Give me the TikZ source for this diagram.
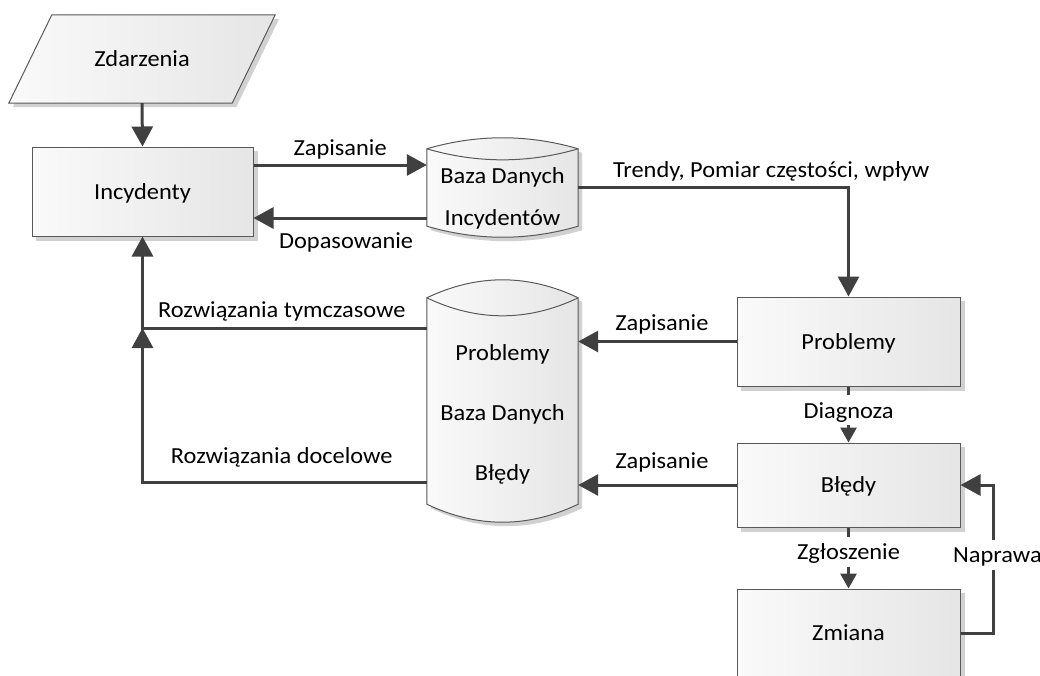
\documentclass[tikz,border=0pt]{standalone}
\usepackage{fontspec}
\setmainfont{Carlito}[FakeStretch=1.06]
\usetikzlibrary{arrows.meta}
\pgfdeclarelayer{bg}
\pgfdeclarelayer{mid}
\pgfsetlayers{bg,mid,main}
\tikzset{
  shapefill/.style={draw=black!65, line width=1pt, left color=black!2, right color=black!10},
  outline/.style={draw=black!65, line width=1pt},
  box/.style={shapefill, minimum width=223pt, inner sep=0pt, text height=15pt, text depth=0pt},
  ghost/.style={inner sep=0pt, text height=15pt, text depth=0pt},
  conn/.style={draw=black!75, line width=3pt},
  arr/.style={conn, -{Triangle[length=20pt,width=21pt]}},
  arrs/.style={conn, -{Triangle[length=15pt,width=16pt]}},
  lab/.style={anchor=base, inner sep=0pt},
  cut/.style={fill=white, inner xsep=2pt, inner ysep=5pt, text height=18pt, text depth=2pt},
  shadowc/.style={fill=black!18},
  sh/.style={transform canvas={xshift=4pt,yshift=-4pt}},
}
% database cylinder: #1 node, #2 third of the width, #3 control offset of the arcs
\newcommand\dbdraw[3]{%
  \begin{pgfonlayer}{bg}
    \fill[shadowc, sh] (#1.north west) .. controls +(#2,-#3) and +(-#2,-#3) .. (#1.north east)
      -- (#1.south east) .. controls +(-#2,#3) and +(#2,#3) .. (#1.south west) -- cycle;
  \end{pgfonlayer}
  \begin{pgfonlayer}{mid}
    \path[shapefill] (#1.north west) .. controls +(#2,-#3) and +(-#2,-#3) .. (#1.north east)
      -- (#1.south east) .. controls +(-#2,#3) and +(#2,#3) .. (#1.south west) -- cycle;
    \draw[outline] (#1.north west) .. controls +(#2,#3) and +(-#2,#3) .. (#1.north east);
  \end{pgfonlayer}
}
\begin{document}
\begin{tikzpicture}[x=1pt, y=-1pt, font=\fontsize{23}{28}\selectfont]
\begin{pgfonlayer}{bg}
  \fill[white] (0,0) rectangle (1040,675);
\end{pgfonlayer}
\useasboundingbox (0,0) rectangle (1040,675);

% process boxes
\node[box, minimum width=221pt, minimum height=89pt] (inc) at (142.5,191.5) {Incydenty};
\node[box, minimum height=89pt] (prob) at (848.5,341.5) {Problemy};
\node[box, minimum height=84pt] (bl) at (848.5,485) {Błędy};
\node[box, minimum height=88pt] (zm) at (848.5,633) {Zmiana};

% input (parallelogram)
\node[ghost, minimum width=223pt, minimum height=88pt] (zd) at (142,59) {Zdarzenia};

% databases
\node[inner sep=0pt, minimum width=151pt, minimum height=77pt] (db1) at (502.5,187.5) {};
\node[inner sep=0pt, minimum width=151pt, minimum height=206pt] (db2) at (502.5,401) {};
\dbdraw{db1}{50.3}{14.7}
\dbdraw{db2}{50.3}{24}
\node[lab] (db1a) at ([yshift=4.5pt]db1.center) {Baza Danych};
\node[lab] (db1b) at ([yshift=-37.5pt]db1.center) {Incydentów};
\node[lab] (db2a) at ([yshift=41pt]db2.center) {Problemy};
\node[lab] (db2b) at ([yshift=-19pt]db2.center) {Baza Danych};
\node[lab] (db2c) at ([yshift=-79pt]db2.center) {Błędy};

% shadows of boxes and parallelogram
\begin{pgfonlayer}{bg}
  \foreach \n in {inc,prob,bl,zm}
    \fill[shadowc, sh] (\n.north west) rectangle (\n.south east);
  \fill[shadowc, sh] ([xshift=21.5pt]zd.north west) -- ([xshift=21.5pt]zd.north east)
    -- ([xshift=-21.5pt]zd.south east) -- ([xshift=-21.5pt]zd.south west) -- cycle;
\end{pgfonlayer}
\begin{pgfonlayer}{mid}
  \path[shapefill] ([xshift=21.5pt]zd.north west) -- ([xshift=21.5pt]zd.north east)
    -- ([xshift=-21.5pt]zd.south east) -- ([xshift=-21.5pt]zd.south west) -- cycle;
\end{pgfonlayer}

% connectors
\draw[arr] (zd.south) -- (inc.north);

\coordinate (zapA) at ([yshift=26.5pt]inc.east);
\draw[arr] (zapA) -- (zapA -| db1.west)
  node[lab, midway, yshift=10pt] (lzap1) {Zapisanie};

\coordinate (dopA) at ([yshift=-30.5pt]db1.west);
\draw[arr] (dopA) -- (dopA -| inc.east)
  node[lab, midway, yshift=-30pt, xshift=6pt] (ldop) {Dopasowanie};

\draw[arr] (db1.east) -| (prob.north)
  node[lab, pos=0.357, yshift=10.5pt] (ltr) {Trendy, Pomiar częstości, wpływ};

\draw[arr] (prob.west) -- (prob.west -| db2.east)
  node[lab, midway, yshift=11.5pt, xshift=4.5pt] (lzap2) {Zapisanie};
\draw[arr] (bl.west) -- (bl.west -| db2.east)
  node[lab, midway, yshift=17pt, xshift=4.5pt] (lzap3) {Zapisanie};

\coordinate (tymA) at ([yshift=73pt]db2.west);
\draw[arr] (tymA) -| (inc.south)
  node[lab, pos=0.255, yshift=11pt] (ltym) {Rozwiązania tymczasowe};
\coordinate (docA) at ([yshift=-81pt]db2.west);
\draw[arr] (docA) -| (tymA -| inc.south)
  node[lab, pos=0.255, yshift=19pt] (ldoc) {Rozwiązania docelowe};

\draw[arrs] (prob.south) -- (bl.north) node[cut, pos=0.42] (ldiag) {Diagnoza};
\draw[arrs] (bl.south) -- (zm.north) node[cut, pos=0.4] (lzgl) {Zgłoszenie};
\draw[arr] (zm.east) -- ++(33,0) |- node[cut, pos=0.265, xshift=4pt] (lnap) {Naprawa} (bl.east);
\end{tikzpicture}
\end{document}
